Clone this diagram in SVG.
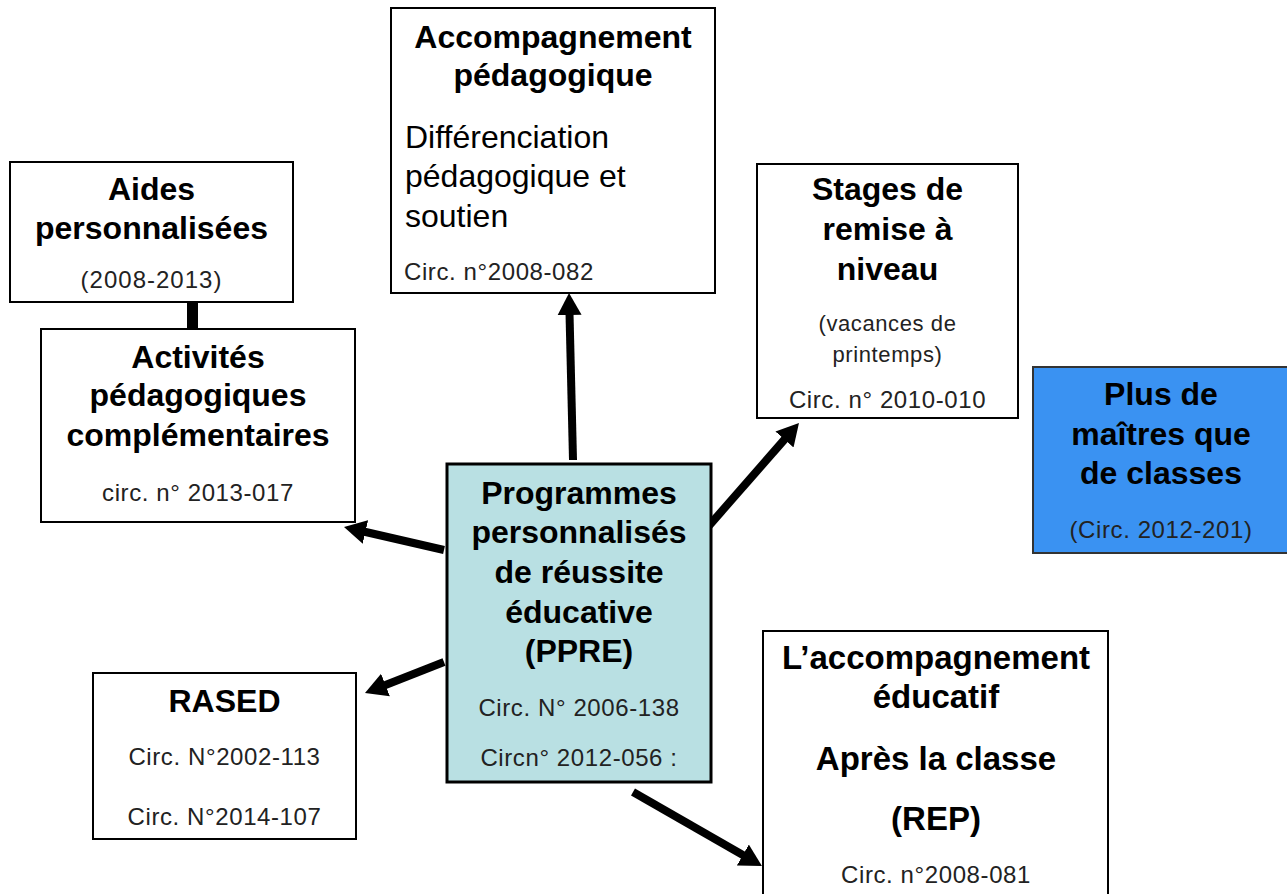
<svg xmlns="http://www.w3.org/2000/svg" width="1287" height="894" viewBox="0 0 1287 894">
<style>
.box{fill:#ffffff;stroke:#000;stroke-width:2}
.b{font-family:"Liberation Sans",Arial,sans-serif;font-weight:bold;font-size:32px;fill:#000;text-anchor:middle}
.r{font-family:"Liberation Sans",Arial,sans-serif;font-size:32px;fill:#000}
.s{font-family:"Liberation Sans",Arial,sans-serif;font-size:24px;fill:#222;text-anchor:middle;letter-spacing:0.6px}
.arrow{stroke:#000;stroke-width:8;fill:none;marker-end:url(#ah)}
</style>
<defs>
<marker id="ah" markerUnits="userSpaceOnUse" markerWidth="24" markerHeight="26" refX="2" refY="12" orient="auto" viewBox="0 0 24 24">
<path d="M0,0 L22,12 L0,24 Z" fill="#000"/>
</marker>
</defs>
<rect width="1287" height="894" fill="#ffffff"/>

<g id="connectors">
<line x1="192.5" y1="302" x2="192.5" y2="329" stroke="#000" stroke-width="11"/>
<line class="arrow" x1="573" y1="460" x2="569.5" y2="313"/>
<line class="arrow" x1="444" y1="550" x2="363.5" y2="531.5"/>
<line class="arrow" x1="707" y1="528" x2="785.8" y2="438"/>
<line class="arrow" x1="444" y1="662" x2="383.6" y2="685.7"/>
<line class="arrow" x1="633" y1="792" x2="744.6" y2="856"/>
</g>

<g id="aides">
<rect class="box" x="10" y="162" width="283" height="140"/>
<text class="b" x="151.5" y="200">Aides</text>
<text class="b" x="151.5" y="239">personnalisées</text>
<text class="s" x="151.5" y="288" style="letter-spacing:1px">(2008-2013)</text>
</g>

<g id="activites">
<rect class="box" x="41" y="329" width="314" height="193"/>
<text class="b" x="198" y="368">Activités</text>
<text class="b" x="198" y="406">pédagogiques</text>
<text class="b" x="198" y="446">complémentaires</text>
<text class="s" x="198" y="501">circ. n° 2013-017</text>
</g>

<g id="accompagnement">
<rect class="box" x="391" y="8" width="324" height="285"/>
<text class="b" x="553" y="48">Accompagnement</text>
<text class="b" x="553" y="86">pédagogique</text>
<text class="r" x="405" y="148">Différenciation</text>
<text class="r" x="405" y="187">pédagogique et</text>
<text class="r" x="405" y="227">soutien</text>
<text class="s" x="404" y="280" style="text-anchor:start">Circ. n°2008-082</text>
</g>

<g id="stages">
<rect class="box" x="757" y="164" width="261" height="254"/>
<text class="b" x="887.5" y="200">Stages de</text>
<text class="b" x="887.5" y="240">remise à</text>
<text class="b" x="887.5" y="280">niveau</text>
<text class="s" x="887.5" y="331" style="font-size:22px">(vacances de</text>
<text class="s" x="887.5" y="362" style="font-size:22px">printemps)</text>
<text class="s" x="887.5" y="408">Circ. n° 2010-010</text>
</g>

<g id="plus">
<rect x="1033" y="367" width="258" height="186" fill="#3a92f2" stroke="#333" stroke-width="2"/>
<text class="b" x="1161" y="405">Plus de</text>
<text class="b" x="1161" y="445">maîtres que</text>
<text class="b" x="1161" y="484">de classes</text>
<text class="s" x="1161" y="538">(Circ. 2012-201)</text>
</g>

<g id="rased">
<rect class="box" x="93" y="673" width="263" height="166"/>
<text class="b" x="224.5" y="712">RASED</text>
<text class="s" x="224.5" y="765">Circ. N°2002-113</text>
<text class="s" x="224.5" y="825">Circ. N°2014-107</text>
</g>

<g id="ppre">
<rect x="447" y="464" width="264" height="318" fill="#b9e0e3" stroke="#000" stroke-width="3"/>
<text class="b" x="579" y="504">Programmes</text>
<text class="b" x="579" y="543">personnalisés</text>
<text class="b" x="579" y="583">de réussite</text>
<text class="b" x="579" y="623">éducative</text>
<text class="b" x="579" y="662">(PPRE)</text>
<text class="s" x="579" y="716">Circ. N° 2006-138</text>
<text class="s" x="579" y="766">Circn° 2012-056 :</text>
</g>

<g id="accompagnement-educatif">
<rect class="box" x="763" y="631" width="345" height="270"/>
<text class="b" x="936" y="669" style="font-size:33px">L’accompagnement</text>
<text class="b" x="936" y="708" style="font-size:33px">éducatif</text>
<text class="b" x="936" y="770" style="font-size:33px">Après la classe</text>
<text class="b" x="936" y="830" style="font-size:33px">(REP)</text>
<text class="s" x="936" y="883">Circ. n°2008-081</text>
</g>
</svg>
